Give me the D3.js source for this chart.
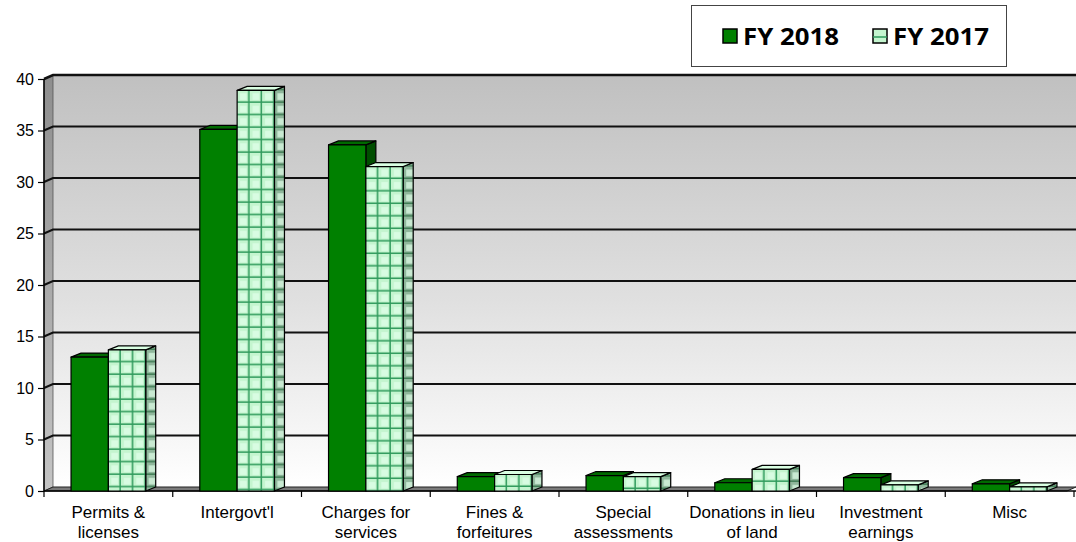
<!DOCTYPE html>
<html>
<head>
<meta charset="utf-8">
<script src="https://cdn.jsdelivr.net/npm/d3@7"></script>
<style>
  html, body { margin: 0; padding: 0; background: #fff; }
  svg { display: block; }
</style>
</head>
<body>
<svg id="chart" width="1076" height="542"></svg>
<script>
// Revenue by source, FY 2018 vs FY 2017
const categories = [
  ["Permits &", "licenses"],
  ["Intergovt'l"],
  ["Charges for", "services"],
  ["Fines &", "forfeitures"],
  ["Special", "assessments"],
  ["Donations in lieu", "of land"],
  ["Investment", "earnings"],
  ["Misc"]
];
const seriesNames = ["FY 2018", "FY 2017"];
const fy2018 = [13.0, 35.1, 33.6, 1.4, 1.5, 0.8, 1.3, 0.7];
const fy2017 = [13.7, 38.9, 31.5, 1.6, 1.4, 2.1, 0.6, 0.4];
const yTicks = [0, 5, 10, 15, 20, 25, 30, 35, 40];

const svg = d3.select("#chart");
const defs = svg.append("defs");

const catKeys = categories.map(c => c.join(" "));
const x0 = d3.scaleBand().domain(catKeys).range([44, 1074]).paddingInner(0).paddingOuter(0);
const barW = x0.bandwidth() * 0.29;
const x1 = d3.scaleBand().domain(seriesNames).range([0, 2 * barW]);
const y = d3.scaleLinear().domain([0, 40]).range([491, 79]);

// 3D offsets
const wallDx = 9, wallDy = -4;
const barDx = 10, barDy = -4;
const left = x0.range()[0], right = 1076;

// back wall gradient
const wallGrad = defs.append("linearGradient").attr("id", "wallGrad")
  .attr("x1", 0).attr("y1", 0).attr("x2", 0).attr("y2", 1);
wallGrad.append("stop").attr("offset", "0%").attr("stop-color", "#c0c0c0");
wallGrad.append("stop").attr("offset", "55%").attr("stop-color", "#e0e0e0");
wallGrad.append("stop").attr("offset", "100%").attr("stop-color", "#ffffff");

const sideGrad = defs.append("linearGradient").attr("id", "sideGrad")
  .attr("x1", 0).attr("y1", 0).attr("x2", 0).attr("y2", 1);
sideGrad.append("stop").attr("offset", "0%").attr("stop-color", "#8e8e8e");
sideGrad.append("stop").attr("offset", "100%").attr("stop-color", "#c4c4c4");

// back wall
svg.append("rect")
  .attr("x", left + wallDx).attr("y", y(40) + wallDy)
  .attr("width", right - (left + wallDx)).attr("height", y(0) - y(40))
  .attr("fill", "url(#wallGrad)");

// left side wall
svg.append("polygon")
  .attr("points", [[left, y(40)], [left + wallDx, y(40) + wallDy], [left + wallDx, y(0) + wallDy], [left, y(0)]].map(p => p.join(",")).join(" "))
  .attr("fill", "url(#sideGrad)").attr("stroke", "#555").attr("stroke-width", 0.8);

// gridlines (wall side + back wall)
const grid = svg.append("g");
yTicks.filter(v => v > 0).forEach(v => {
  grid.append("path")
    .attr("d", `M${left},${y(v)} L${left + wallDx},${y(v) + wallDy} L${right},${y(v) + wallDy}`)
    .attr("fill", "none").attr("stroke", "#111").attr("stroke-width", v === 40 ? 2.5 : 2);
});

// floor
svg.append("polygon")
  .attr("points", [[left, y(0)], [left + wallDx, y(0) + wallDy], [right, y(0) + wallDy], [right - wallDx, y(0)]].map(p => p.join(",")).join(" "))
  .attr("fill", "#7a7a7a").attr("stroke", "#222").attr("stroke-width", 1);

// axes
svg.append("line").attr("x1", left).attr("x2", left).attr("y1", y(40)).attr("y2", y(0))
  .attr("stroke", "#000").attr("stroke-width", 1.5);
svg.append("line").attr("x1", left).attr("x2", right).attr("y1", y(0)).attr("y2", y(0))
  .attr("stroke", "#000").attr("stroke-width", 1.5);

const yAxis = svg.append("g").attr("transform", `translate(${left},0)`)
  .call(d3.axisLeft(y).tickValues(yTicks).tickSize(6).tickPadding(4));
yAxis.select(".domain").remove();
yAxis.selectAll("line").attr("stroke", "#000").attr("stroke-width", 1.2);
yAxis.selectAll("text").attr("font-family", "'Liberation Sans', Arial, sans-serif")
  .attr("font-size", 16).attr("fill", "#000");

// category boundary ticks
const bounds = catKeys.map(k => x0(k)).concat([x0.range()[1]]);
svg.append("g").selectAll("line").data(bounds).join("line")
  .attr("x1", d => d).attr("x2", d => d)
  .attr("y1", y(0)).attr("y2", y(0) + 6)
  .attr("stroke", "#000").attr("stroke-width", 1.2);

// category labels
const labels = svg.append("g").attr("font-family", "'Liberation Sans', Arial, sans-serif")
  .attr("font-size", 17).attr("fill", "#000").attr("text-anchor", "middle");
categories.forEach((lines, i) => {
  const cx = x0(catKeys[i]) + x0.bandwidth() / 2;
  const t = labels.append("text").attr("x", cx).attr("y", 518);
  lines.forEach((ln, j) => {
    t.append("tspan").attr("x", cx).attr("dy", j === 0 ? 0 : 20).text(ln);
  });
});

// checked pattern for FY 2017, anchored per bar
function checkPattern(id, ox, oy, bg, line) {
  const p = defs.append("pattern").attr("id", id)
    .attr("patternUnits", "userSpaceOnUse")
    .attr("x", ox).attr("y", oy).attr("width", 12.5).attr("height", 12.5);
  p.append("rect").attr("width", 12.5).attr("height", 12.5).attr("fill", bg);
  p.append("rect").attr("x", 3).attr("y", 3).attr("width", 6.5).attr("height", 6.5).attr("fill", "#e2ffea").attr("opacity", 0.7);
  p.append("rect").attr("x", 11).attr("y", 0).attr("width", 1.8).attr("height", 12.5).attr("fill", line);
  p.append("rect").attr("x", 0).attr("y", 11).attr("width", 12.5).attr("height", 1.8).attr("fill", line);
}

const styles = {
  "FY 2018": { front: "#008000", top: "#006a00", side: "#004e00" },
  "FY 2017": { front: null, top: "#d9ffe2", side: null }
};

const bars = svg.append("g");
categories.forEach((c, i) => {
  const gx = x0(catKeys[i]) + (x0.bandwidth() - 2 * barW) / 2;
  [["FY 2018", fy2018[i]], ["FY 2017", fy2017[i]]].forEach(([s, v]) => {
    const bx = gx + x1(s);
    const by = y(v), b0 = y(0);
    const st = styles[s];
    let frontFill = st.front, sideFill = st.side;
    if (s === "FY 2017") {
      checkPattern(`pf${i}`, bx, by, "#c4f5cf", "#2f9a5c");
      checkPattern(`ps${i}`, bx + barW, by, "#8fb79b", "#3d7a52");
      frontFill = `url(#pf${i})`;
      sideFill = `url(#ps${i})`;
    }
    const g = bars.append("g").attr("stroke", "#000").attr("stroke-width", 1.2).attr("stroke-linejoin", "round");
    // right side face
    g.append("polygon")
      .attr("points", [[bx + barW, by], [bx + barW + barDx, by + barDy], [bx + barW + barDx, b0 + barDy], [bx + barW, b0]].map(p => p.join(",")).join(" "))
      .attr("fill", sideFill);
    // top face
    g.append("polygon")
      .attr("points", [[bx, by], [bx + barDx, by + barDy], [bx + barW + barDx, by + barDy], [bx + barW, by]].map(p => p.join(",")).join(" "))
      .attr("fill", st.top);
    // front face
    g.append("rect").attr("x", bx).attr("y", by).attr("width", barW).attr("height", b0 - by)
      .attr("fill", frontFill);
  });
});

// legend
const lg = svg.append("g");
lg.append("rect").attr("x", 691.5).attr("y", 5.5).attr("width", 315).attr("height", 61)
  .attr("fill", "#fff").attr("stroke", "#444").attr("stroke-width", 1);
const legendItems = [
  { name: seriesNames[0], sx: 723, tx: 743 },
  { name: seriesNames[1], sx: 873, tx: 893 }
];
legendItems.forEach((d, i) => {
  if (i === 0) {
    lg.append("rect").attr("x", d.sx).attr("y", 29).attr("width", 14).attr("height", 14)
      .attr("fill", "#008000").attr("stroke", "#000").attr("stroke-width", 1.5);
  } else {
    lg.append("rect").attr("x", d.sx).attr("y", 29).attr("width", 14).attr("height", 14)
      .attr("fill", "#c4f5cf").attr("stroke", "#000").attr("stroke-width", 1.5);
    lg.append("line").attr("x1", d.sx).attr("x2", d.sx + 14).attr("y1", 37).attr("y2", 37)
      .attr("stroke", "#2f9a5c").attr("stroke-width", 1.5);
  }
  lg.append("text").attr("x", d.tx).attr("y", 45)
    .attr("font-family", "'Open Sans', 'DejaVu Sans', sans-serif").attr("font-weight", "bold")
    .attr("font-size", 23).attr("fill", "#000")
    .attr("textLength", 96).attr("lengthAdjust", "spacingAndGlyphs")
    .text(d.name);
});
</script>
</body>
</html>
